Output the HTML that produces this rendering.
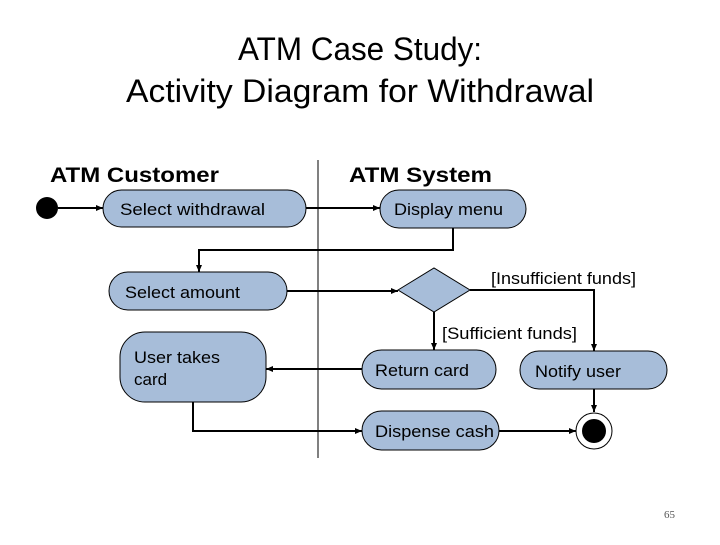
<!DOCTYPE html>
<html><head><meta charset="utf-8"><style>html,body{margin:0;padding:0;background:#fff}</style></head>
<body>
<svg width="720" height="540" viewBox="0 0 720 540" xmlns="http://www.w3.org/2000/svg" font-family="Liberation Sans, Arial, sans-serif" style="white-space:pre">
<defs><marker id="a" markerWidth="8" markerHeight="8" refX="7" refY="4" orient="auto" markerUnits="userSpaceOnUse"><path d="M0,1 L7,4 L0,7 z" fill="#000"/></marker></defs>
<text x="238" y="60" font-size="32" textLength="244" lengthAdjust="spacingAndGlyphs" fill="#000">ATM Case Study:</text>
<text x="126" y="102" font-size="32" textLength="468" lengthAdjust="spacingAndGlyphs" fill="#000">Activity Diagram for Withdrawal</text>
<text x="50" y="182" font-size="21" font-weight="bold" textLength="169" lengthAdjust="spacingAndGlyphs">ATM Customer</text>
<text x="349" y="182" font-size="21" font-weight="bold" textLength="143" lengthAdjust="spacingAndGlyphs">ATM System</text>
<line x1="318" y1="160" x2="318" y2="458" stroke="#000" stroke-width="1"/>
<g stroke="#000" stroke-width="2" fill="none">
<line x1="58" y1="208" x2="103" y2="208" marker-end="url(#a)"/>
<line x1="306" y1="208" x2="380" y2="208" marker-end="url(#a)"/>
<polyline points="453,228 453,250 199,250 199,272" marker-end="url(#a)"/>
<line x1="287" y1="291" x2="398" y2="291" marker-end="url(#a)"/>
<polyline points="470,290 594,290 594,351" marker-end="url(#a)"/>
<line x1="434" y1="312" x2="434" y2="350" marker-end="url(#a)"/>
<line x1="362" y1="369" x2="266" y2="369" marker-end="url(#a)"/>
<line x1="594" y1="389" x2="594" y2="412" marker-end="url(#a)"/>
<polyline points="193,402 193,431 362,431" marker-end="url(#a)"/>
<line x1="499" y1="431" x2="576" y2="431" marker-end="url(#a)"/>
</g>
<circle cx="47" cy="208" r="11" fill="#000"/>
<g fill="#a7bdd9" stroke="#000" stroke-width="1">
<rect x="103" y="190" width="203" height="37" rx="18.5"/>
<rect x="380" y="190" width="146" height="38" rx="19"/>
<rect x="109" y="272" width="178" height="38" rx="19"/>
<polygon points="398,290 434,268 470,290 434,312"/>
<rect x="120" y="332" width="146" height="70" rx="25"/>
<rect x="362" y="350" width="134" height="39" rx="19.5"/>
<rect x="520" y="351" width="147" height="38" rx="19"/>
<rect x="362" y="411" width="137" height="39" rx="19.5"/>
</g>
<circle cx="594" cy="431" r="18" fill="#fff" stroke="#000" stroke-width="1"/>
<circle cx="594" cy="431" r="12" fill="#000"/>
<g font-size="17" fill="#000">
<text x="120" y="215" textLength="145" lengthAdjust="spacingAndGlyphs">Select  withdrawal</text>
<text x="394" y="215" textLength="109" lengthAdjust="spacingAndGlyphs">Display menu</text>
<text x="125" y="298" textLength="115" lengthAdjust="spacingAndGlyphs">Select amount</text>
<text x="491" y="284" textLength="145" lengthAdjust="spacingAndGlyphs">[Insufficient funds]</text>
<text x="442" y="339" textLength="135" lengthAdjust="spacingAndGlyphs">[Sufficient funds]</text>
<text x="134" y="363" textLength="86" lengthAdjust="spacingAndGlyphs">User takes</text>
<text x="134" y="385">card</text>
<text x="375" y="376" textLength="94" lengthAdjust="spacingAndGlyphs">Return card</text>
<text x="535" y="377" textLength="86" lengthAdjust="spacingAndGlyphs">Notify user</text>
<text x="375" y="437" textLength="119" lengthAdjust="spacingAndGlyphs">Dispense cash</text>
</g>
<text x="664" y="518" font-size="11" font-family="Liberation Serif, serif" fill="#555">65</text>
</svg>
</body></html>
